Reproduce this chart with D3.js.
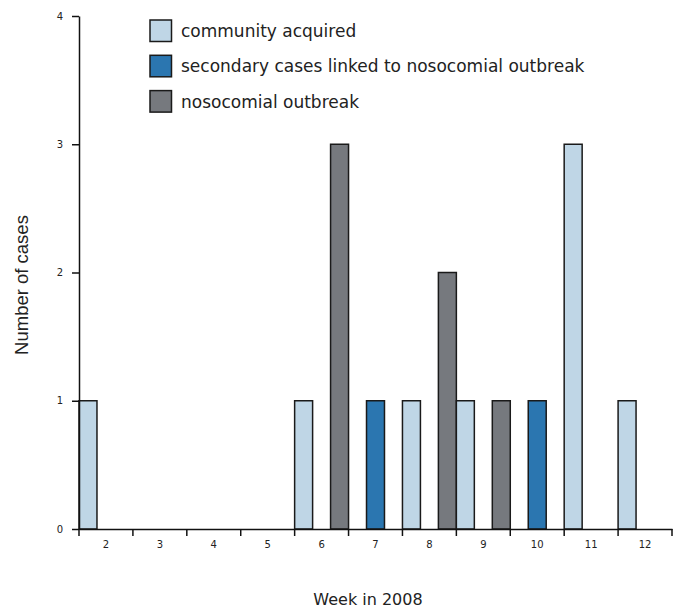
<!DOCTYPE html>
<html><head><meta charset="utf-8">
<script src="https://cdn.jsdelivr.net/npm/d3@7"></script>
<style>
body{margin:0;background:#fff;}
svg{display:block;}
</style></head>
<body>
<svg id="chart" width="680" height="608"></svg>
<script>
const weeks = ["2","3","4","5","6","7","8","9","10","11","12"];
const seriesNames = ["community acquired","secondary cases linked to nosocomial outbreak","nosocomial outbreak"];
const communityAcquired = [1,0,0,0,1,0,1,1,0,3,1];
const secondaryCases    = [0,0,0,0,0,1,0,0,1,0,0];
const nosocomialOutbreak= [0,0,0,0,3,0,2,1,0,0,0];
const yTicks = [0,1,2,3,4];
const colors = ["#bfd6e6","#2b76b0","#76797e"];
const yTitle = "Number of cases";
const xTitle = "Week in 2008";

const values = [communityAcquired, secondaryCases, nosocomialOutbreak];
const svg = d3.select("#chart");
const labelFont = "'DejaVu Sans', sans-serif";

const x = d3.scaleBand().domain(weeks).range([79, 672]).padding(0);
const x1 = d3.scaleBand().domain(seriesNames).range([0, x.bandwidth()]).padding(0);
const y = d3.scaleLinear().domain([0, 4]).range([529, 16]);

// bars
const data = [];
weeks.forEach((w, i) => seriesNames.forEach((s, j) => {
  if (values[j][i] > 0) data.push({w, s, v: values[j][i], c: colors[j]});
}));
svg.append("g").selectAll("rect").data(data).join("rect")
  .attr("x", d => x(d.w) + x1(d.s))
  .attr("y", d => y(d.v))
  .attr("width", x1.bandwidth())
  .attr("height", d => y(0) - y(d.v))
  .attr("fill", d => d.c)
  .attr("stroke", "#1a1a1a")
  .attr("stroke-width", 1.5);

// y axis
const gy = svg.append("g").attr("transform", "translate(79,0)")
  .call(d3.axisLeft(y).tickValues(yTicks).tickFormat(d3.format("d")).tickSize(7).tickSizeOuter(0).tickPadding(9));
gy.select(".domain").attr("stroke", "#111").attr("stroke-width", 1.5);
gy.selectAll(".tick line").attr("stroke", "#111").attr("stroke-width", 1.5);
gy.selectAll("text").attr("font-family", labelFont).attr("font-size", 10).attr("fill", "#222");

// x axis
const gx = svg.append("g").attr("transform", "translate(0,529)")
  .call(d3.axisBottom(x).tickSize(0).tickSizeOuter(0).tickPadding(12));
gx.select(".domain").attr("stroke", "#111").attr("stroke-width", 1.5);
gx.selectAll("text").attr("font-family", labelFont).attr("font-size", 10).attr("fill", "#222");
const edges = weeks.map(w => x(w)).concat([x.range()[1]]);
gx.selectAll(".edge").data(edges).join("line").attr("class", "edge")
  .attr("x1", d => d).attr("x2", d => d).attr("y1", 0).attr("y2", 7)
  .attr("stroke", "#111").attr("stroke-width", 1.5);

// titles
svg.append("text").attr("transform", "translate(28,285) rotate(-90)")
  .attr("text-anchor", "middle").attr("font-family", "'Liberation Sans', Arial, sans-serif")
  .attr("font-size", 18.5).attr("fill", "#222").text(yTitle);
svg.append("text").attr("x", 368).attr("y", 605)
  .attr("text-anchor", "middle").attr("font-family", labelFont)
  .attr("font-size", 16).attr("fill", "#222").text(xTitle);

// legend
const lg = svg.append("g");
seriesNames.forEach((s, j) => {
  const yy = 20 + j * 35.3;
  lg.append("rect").attr("x", 150).attr("y", yy).attr("width", 21.5).attr("height", 21.5)
    .attr("fill", colors[j]).attr("stroke", "#1a1a1a").attr("stroke-width", 1.5);
  lg.append("text").attr("x", 181).attr("y", yy + 11).attr("dy", "0.35em")
    .attr("font-family", labelFont).attr("font-size", 17).attr("fill", "#222").text(s);
});
</script>
</body></html>
